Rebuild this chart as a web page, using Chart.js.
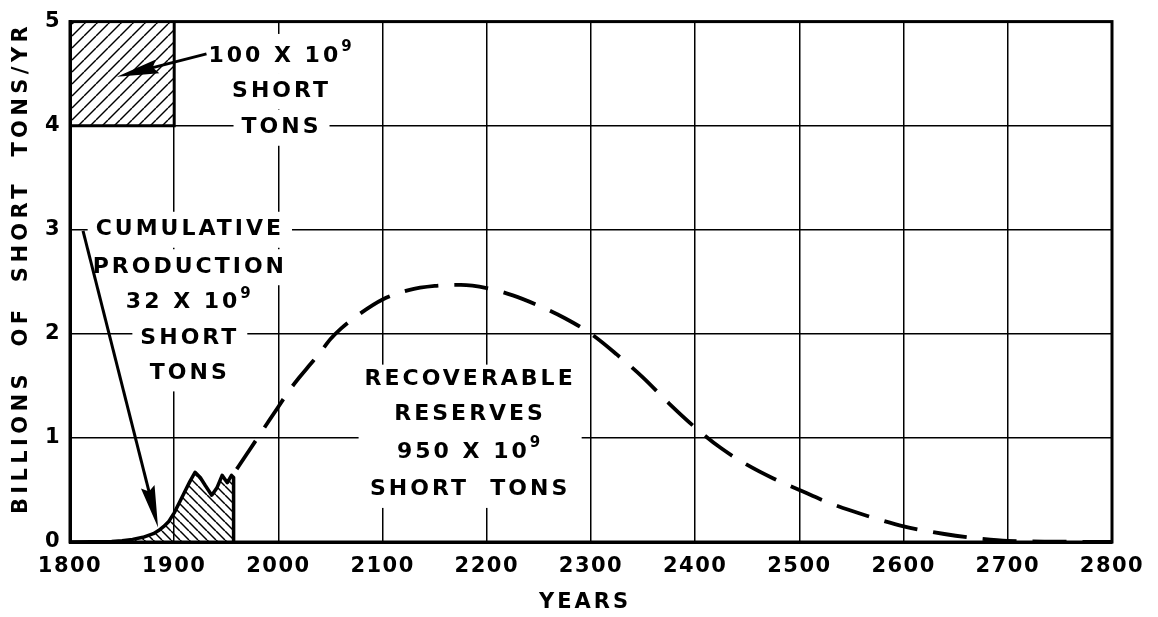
<!DOCTYPE html>
<html>
<head>
<meta charset="utf-8">
<script src="https://cdn.jsdelivr.net/npm/chart.js@4.4.1/dist/chart.umd.min.js"></script>
<style>
  html, body { margin: 0; padding: 0; background: #fff; }
  #wrap { width: 1158px; height: 617px; }
</style>
</head>
<body>
<div id="wrap"><canvas id="carvao" width="1158" height="617"></canvas></div>
<script>
const FONT = "DejaVu Sans";

// producao historica (area hachurada)
const anos_hist = [1800, 1820, 1840, 1850, 1860, 1870, 1880, 1885, 1890, 1895, 1900, 1905, 1910, 1915, 1920, 1925, 1930, 1936, 1941, 1946, 1951, 1955, 1957, 1957];
const prod_hist = [0, 0.002, 0.006, 0.012, 0.025, 0.045, 0.08, 0.11, 0.15, 0.2, 0.28, 0.38, 0.48, 0.58, 0.67, 0.62, 0.54, 0.45, 0.52, 0.64, 0.57, 0.64, 0.62, 0];

// projecao (tracejada)
const anos_proj = [1960, 1970, 1980, 1990, 2000, 2010, 2020, 2030, 2040, 2050, 2060, 2075, 2100, 2125, 2150, 2175, 2200, 2225, 2250, 2275, 2300, 2325, 2350, 2375, 2400, 2425, 2450, 2475, 2500, 2525, 2550, 2575, 2600, 2625, 2650, 2675, 2700, 2750, 2800];
const prod_proj = [0.7, 0.85, 1.0, 1.15, 1.3, 1.45, 1.58, 1.7, 1.82, 1.95, 2.05, 2.17, 2.33, 2.42, 2.46, 2.47, 2.44, 2.37, 2.27, 2.15, 2.0, 1.8, 1.58, 1.33, 1.1, 0.9, 0.74, 0.61, 0.5, 0.39, 0.3, 0.22, 0.15, 0.1, 0.06, 0.03, 0.01, 0.003, 0];

// caixa de escala (100 x 10^9)
const caixa_anos = [1800, 1900];
const caixa_faixa = [4, 5];

// ticks
const anos_ticks = [1800, 1900, 2000, 2100, 2200, 2300, 2400, 2500, 2600, 2700, 2800];
const valores_ticks = [0, 1, 2, 3, 4, 5];

// textos dentro do grafico
const notas = [
  { x: 2003, y: [4.67, 4.33, 3.98], linhas: [["100 X 10", "9"], ["SHORT"], ["TONS"]], bloco: false },
  { x: 1915, y: [3.0, 2.64, 2.3, 1.96, 1.62], linhas: [["CUMULATIVE"], ["PRODUCTION"], ["32 X 10", "9"], ["SHORT"], ["TONS"]], bloco: false },
  { x: 2184, y: [1.56, 1.23, 0.86, 0.51], linhas: [["RECOVERABLE"], ["RESERVES"], ["950 X 10", "9"], ["SHORT  TONS"]], bloco: true },
];

// setas [ano inicio, valor inicio, ano ponta, valor ponta]
const setas = [
  [1931, 4.69, 1845, 4.47],
  [1812.5, 2.99, 1884.5, 0.14],
];

const canvas = document.getElementById("carvao");

function hachura(passo, dir, lw) {
  const c = document.createElement("canvas");
  c.width = passo;
  c.height = passo;
  const g = c.getContext("2d");
  g.strokeStyle = "#000";
  g.lineWidth = lw;
  for (let k = -1; k <= 1; k++) {
    g.beginPath();
    if (dir === "/") {
      g.moveTo(k * passo, passo);
      g.lineTo(k * passo + passo, 0);
    } else {
      g.moveTo(k * passo, 0);
      g.lineTo(k * passo + passo, passo);
    }
    g.stroke();
  }
  return canvas.getContext("2d").createPattern(c, "repeat");
}

const FS = 22;
const SUP = 15;

function medeLinha(ctx, l) {
  ctx.letterSpacing = "3px";
  ctx.font = "bold " + FS + "px '" + FONT + "'";
  let w = ctx.measureText(l[0]).width;
  if (l[1]) {
    ctx.font = "bold " + SUP + "px '" + FONT + "'";
    w += ctx.measureText(l[1]).width;
  }
  return w;
}

function desenhaLinha(ctx, l, cx, cy) {
  const w = medeLinha(ctx, l);
  let x0 = cx - w / 2;
  ctx.textAlign = "left";
  ctx.textBaseline = "middle";
  ctx.fillStyle = "#000";
  ctx.font = "bold " + FS + "px '" + FONT + "'";
  ctx.fillText(l[0], x0, cy);
  if (l[1]) {
    const w0 = ctx.measureText(l[0]).width;
    ctx.font = "bold " + SUP + "px '" + FONT + "'";
    ctx.fillText(l[1], x0 + w0, cy - 9);
  }
}

function seta(ctx, x1, y1, x2, y2) {
  const ang = Math.atan2(y2 - y1, x2 - x1);
  const L = 42, H = 7;
  const bx = x2 - L * Math.cos(ang), by = y2 - L * Math.sin(ang);
  ctx.strokeStyle = "#000";
  ctx.lineWidth = 3;
  ctx.beginPath();
  ctx.moveTo(x1, y1);
  ctx.lineTo(bx + 8 * Math.cos(ang), by + 8 * Math.sin(ang));
  ctx.stroke();
  ctx.fillStyle = "#000";
  ctx.beginPath();
  ctx.moveTo(x2, y2);
  ctx.lineTo(bx + H * Math.sin(ang), by - H * Math.cos(ang));
  ctx.lineTo(bx + 0.12 * L * Math.cos(ang), by + 0.12 * L * Math.sin(ang));
  ctx.lineTo(bx - H * Math.sin(ang), by + H * Math.cos(ang));
  ctx.closePath();
  ctx.fill();
}

const anotacoes = {
  id: "anotacoes",
  beforeDraw(chart) {
    const ctx = chart.ctx;
    ctx.save();
    ctx.fillStyle = "#fff";
    ctx.fillRect(0, 0, chart.width, chart.height);
    ctx.restore();
    ctx.letterSpacing = "1.5px";
  },
  beforeDatasetsDraw(chart) {
    const ctx = chart.ctx;
    const xs = chart.scales.x, ys = chart.scales.y;
    ctx.save();
    ctx.fillStyle = "#fff";
    notas.forEach((n) => {
      const cx = xs.getPixelForValue(n.x);
      if (n.bloco) {
        let wmax = 0;
        n.linhas.forEach((l) => { wmax = Math.max(wmax, medeLinha(ctx, l)); });
        const top = ys.getPixelForValue(n.y[0]) - 15;
        const bot = ys.getPixelForValue(n.y[n.y.length - 1]) + 19;
        ctx.fillRect(cx - wmax / 2 - 6, top, wmax + 12, bot - top);
      } else {
        n.linhas.forEach((l, i) => {
          const w = medeLinha(ctx, l);
          const cy = ys.getPixelForValue(n.y[i]);
          const extra = l[1] ? 4 : 0;
          ctx.fillRect(cx - w / 2 - 8, cy - 18 - extra, w + 16, 36 + extra);
        });
      }
    });
    const a = chart.chartArea;
    ctx.strokeStyle = "#000";
    ctx.lineWidth = 3;
    ctx.strokeRect(a.left, a.top, a.right - a.left, a.bottom - a.top);
    ctx.restore();
  },
  afterDatasetsDraw(chart) {
    const ctx = chart.ctx;
    const xs = chart.scales.x, ys = chart.scales.y;
    ctx.save();
    notas.forEach((n) => {
      const cx = xs.getPixelForValue(n.x);
      n.linhas.forEach((l, i) => desenhaLinha(ctx, l, cx, ys.getPixelForValue(n.y[i])));
    });
    setas.forEach((s) => {
      seta(ctx, xs.getPixelForValue(s[0]), ys.getPixelForValue(s[1]), xs.getPixelForValue(s[2]), ys.getPixelForValue(s[3]));
    });
    // titulos dos eixos
    ctx.fillStyle = "#000";
    ctx.font = "bold 21px '" + FONT + "'";
    ctx.textAlign = "center";
    ctx.textBaseline = "middle";
    ctx.letterSpacing = "3px";
    ctx.fillText("YEARS", 585, 603);
    ctx.translate(22, 268);
    ctx.rotate(-Math.PI / 2);
    ctx.letterSpacing = "4.4px";
    ctx.fillText("BILLIONS  OF  SHORT  TONS/YR", 0, 0);
    ctx.restore();
  },
};

new Chart(canvas, {
  type: "line",
  data: {
    datasets: [
      {
        label: "caixa",
        data: caixa_anos.map((a) => ({ x: a, y: caixa_faixa[1] })),
        fill: { value: caixa_faixa[0] },
        backgroundColor: hachura(12, "/", 1.4),
        borderWidth: 0,
        pointRadius: 0,
      },
      {
        label: "caixa borda",
        data: [
          { x: caixa_anos[0], y: caixa_faixa[0] },
          { x: caixa_anos[1], y: caixa_faixa[0] },
          { x: caixa_anos[1], y: caixa_faixa[1] },
        ],
        fill: false,
        borderColor: "#000",
        borderWidth: 3,
        pointRadius: 0,
      },
      {
        label: "Producao",
        data: anos_hist.map((a, i) => ({ x: a, y: prod_hist[i] })),
        fill: "origin",
        backgroundColor: hachura(9, "\\", 1.5),
        borderColor: "#000",
        borderWidth: 3.5,
        borderJoinStyle: "round",
        tension: 0,
        pointRadius: 0,
      },
      {
        label: "Projecao",
        data: anos_proj.map((a, i) => ({ x: a, y: prod_proj[i] })),
        fill: false,
        borderColor: "#000",
        borderWidth: 3.8,
        borderDash: [34, 16],
        cubicInterpolationMode: "monotone",
        pointRadius: 0,
      },
    ],
  },
  options: {
    responsive: false,
    animation: false,
    devicePixelRatio: 1,
    layout: { padding: { left: 0, right: 46, top: 18, bottom: 0 } },
    plugins: {
      legend: { display: false },
      tooltip: { enabled: false },
    },
    scales: {
      x: {
        type: "linear",
        min: 1800,
        max: 2800,
        afterBuildTicks: (s) => { s.ticks = anos_ticks.map((v) => ({ value: v })); },
        afterFit: (s) => { s.height = 75; },
        grid: { color: "#000", lineWidth: 1.5, drawTicks: false },
        border: { color: "#000", width: 3 },
        ticks: {
          color: "#000",
          padding: 12,
          maxRotation: 0,
          autoSkip: false,
          callback: (v) => String(v),
          font: { family: FONT, size: 21, weight: "bold" },
        },
      },
      y: {
        type: "linear",
        min: 0,
        max: 5,
        afterBuildTicks: (s) => { s.ticks = valores_ticks.map((v) => ({ value: v })); },
        afterFit: (s) => { s.width = 70; },
        grid: { color: "#000", lineWidth: 1.5, drawTicks: false },
        border: { color: "#000", width: 3 },
        ticks: {
          color: "#000",
          padding: 9,
          callback: (v) => String(v),
          font: { family: FONT, size: 21, weight: "bold" },
        },
      },
    },
  },
  plugins: [anotacoes],
});
</script>
</body>
</html>
